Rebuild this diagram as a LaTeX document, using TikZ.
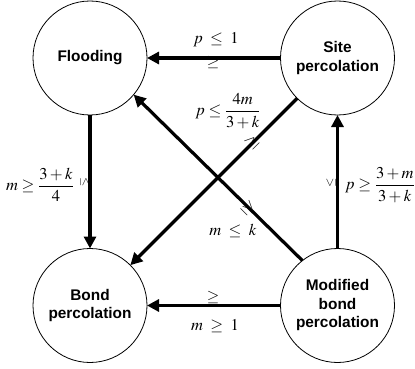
\documentclass[tikz,border=0pt]{standalone}
\usepackage{amsmath}
\usepackage{mathptmx}
\usepackage[no-math]{fontspec}
\setmainfont{Liberation Serif}
\newfontfamily\nodefont{Liberation Sans}
\usetikzlibrary{arrows.meta}
\begin{document}
\begin{tikzpicture}[x=1pt,y=-1pt,
  state/.style={circle,draw,line width=0.8pt,minimum size=114pt,inner sep=0pt,outer sep=0pt,
    font=\nodefont\bfseries\fontsize{15.4}{18.5}\selectfont,align=center},
  conn/.style={line width=3.2pt,-{Triangle[length=12pt,width=12pt]}},
  lbl/.style={font=\fontsize{16.5}{19}\selectfont,inner sep=0pt},
  relmark/.style={font=\fontsize{16}{18}\selectfont,inner sep=0pt},
  smallmark/.style={font=\fontsize{12}{13}\selectfont,inner sep=0pt}]
\useasboundingbox (0,0) rectangle (415,369);
\node[state] (F) at (90,58) {Flooding};
\node[state] (S) at (337.5,58) {Site\\percolation};
\node[state] (B) at (90,305.5) {Bond\\percolation};
\node[state] (M) at (337.5,305.5) {Modified\\bond\\percolation};

\draw[conn] (S.west) -- (F.east);
\draw[conn] (F.south) -- (B.north);
\draw[conn] (M.north) -- (S.south);
\draw[conn] (M.west) -- (B.east);
\draw[conn] (S.south west) -- (B.north east);
\draw[conn] (M.128) -- (F.-40);

\node[lbl] (l1) at (216,40) {$p\;\leq\;1$};
\node[relmark] (g1) at (213,62) {$\geq$};
\node[lbl] (l2) at (215,326) {$m\;\geq\;1$};
\node[relmark] (g2) at (213,297) {$\geq$};
\node[lbl] (l3) at (40,185) {$m\geq\dfrac{3+k}{4}$};
\node[smallmark,rotate=-90] (g3) at (85,182) {$\leq$};
\node[lbl] (l4) at (380,185) {$p\geq\dfrac{3+m}{3+k}$};
\node[smallmark,rotate=90] (g4) at (331,183) {$\leq$};
\node[lbl] (l5) at (228,111) {$p\leq\dfrac{4m}{3+k}$};
\node[relmark,rotate=45] (g5) at (252,142) {$\geq$};
\node[lbl] (l6) at (233,231) {$m\;\leq\;k$};
\node[relmark,rotate=-45] (g6) at (248,208) {$\geq$};
\end{tikzpicture}
\end{document}
